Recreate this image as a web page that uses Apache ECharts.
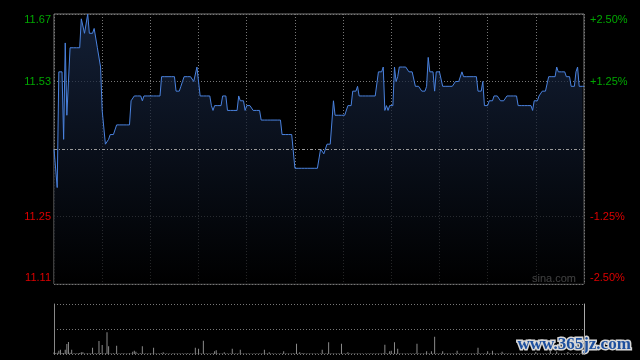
<!DOCTYPE html>
<html>
<head>
<meta charset="utf-8">
<style>
html,body{margin:0;padding:0;background:#000;}
#c{width:640px;height:360px;}
</style>
<script src="https://cdn.jsdelivr.net/npm/echarts@6/dist/echarts.min.js"></script>
</head>
<body>
<div id="c"></div>
<script>
// trading sessions (HK market, one point per minute)
var sessions = [['09:30','12:00'],['13:00','16:00']];
var prevClose = 11.39;
var leftTicks = ['11.11','11.25','11.39','11.53','11.67'];
var rightTicks = ['-2.50%','-1.25%','','+1.25%','+2.50%'];

var prices = [
11.39,11.39,11.31,11.55,11.55,11.55,11.41,11.61,11.46,11.46,
11.60,11.60,11.60,11.60,11.60,11.60,11.60,11.66,11.66,11.63,
11.63,11.67,11.63,11.63,11.63,11.64,11.64,11.60,11.60,11.56,
11.47,11.47,11.40,11.40,11.41,11.42,11.42,11.42,11.42,11.44,
11.44,11.44,11.44,11.44,11.44,11.44,11.44,11.44,11.49,11.49,
11.50,11.50,11.50,11.50,11.50,11.49,11.50,11.50,11.50,11.50,
11.50,11.50,11.50,11.50,11.50,11.50,11.50,11.54,11.54,11.54,
11.54,11.54,11.54,11.54,11.54,11.54,11.51,11.51,11.51,11.52,
11.53,11.54,11.54,11.54,11.54,11.54,11.54,11.53,11.53,11.56,
11.56,11.50,11.50,11.50,11.50,11.50,11.50,11.50,11.48,11.47,
11.48,11.48,11.48,11.48,11.48,11.50,11.50,11.50,11.47,11.47,
11.47,11.47,11.47,11.47,11.47,11.50,11.49,11.49,11.49,11.47,
11.48,11.48,11.48,11.48,11.47,11.47,11.47,11.47,11.47,11.45,
11.45,11.45,11.45,11.45,11.45,11.45,11.45,11.45,11.45,11.45,
11.45,11.45,11.42,11.42,11.42,11.42,11.42,11.42,11.42,11.42,
11.35,11.35,11.35,11.35,11.35,11.35,11.35,11.35,11.35,11.35,
11.35,11.35,11.35,11.35,11.35,11.35,11.39,11.39,11.38,11.38,
11.40,11.40,11.40,11.40,11.49,11.46,11.46,11.46,11.46,11.46,
11.46,11.46,11.46,11.48,11.48,11.48,11.51,11.51,11.51,11.52,
11.50,11.50,11.50,11.50,11.50,11.50,11.50,11.50,11.50,11.50,
11.50,11.50,11.55,11.55,11.55,11.56,11.47,11.48,11.47,11.48,
11.48,11.48,11.56,11.53,11.54,11.56,11.56,11.56,11.56,11.56,
11.56,11.55,11.55,11.55,11.55,11.52,11.52,11.52,11.52,11.51,
11.51,11.51,11.52,11.58,11.55,11.55,11.55,11.51,11.55,11.55,
11.55,11.55,11.52,11.52,11.52,11.52,11.52,11.52,11.52,11.52,
11.53,11.53,11.53,11.53,11.55,11.54,11.54,11.54,11.54,11.54,
11.54,11.54,11.54,11.54,11.51,11.51,11.51,11.53,11.48,11.48,
11.48,11.49,11.49,11.49,11.50,11.50,11.50,11.50,11.49,11.49,
11.49,11.49,11.50,11.50,11.50,11.50,11.50,11.50,11.50,11.48,
11.48,11.48,11.48,11.48,11.48,11.48,11.48,11.48,11.47,11.49,
11.49,11.49,11.50,11.50,11.51,11.51,11.51,11.51,11.54,11.54,
11.54,11.54,11.54,11.56,11.55,11.55,11.55,11.55,11.55,11.54,
11.54,11.54,11.52,11.52,11.52,11.55,11.56,11.52,11.52,11.52,
11.52
];

var volumes = [
15,8,12,33,43,10,9,43,100,120,
12,43,6,8,5,7,9,17,17,6,
5,8,6,7,63,5,8,6,130,9,
90,6,8,217,77,6,5,7,6,83,
5,6,4,7,5,6,4,8,5,23,
33,23,6,5,7,77,5,4,6,5,
7,4,63,5,6,4,5,7,17,5,
4,6,5,3,7,5,4,6,5,4,
6,5,4,7,5,4,6,5,63,4,
53,6,5,133,5,4,6,5,4,7,
27,37,5,4,6,5,17,4,5,6,
4,53,5,4,6,5,43,4,5,6,
4,5,6,3,5,4,6,5,4,5,
6,43,5,4,17,5,6,4,5,3,
5,4,6,27,5,4,6,5,4,7,
6,103,5,17,4,10,5,4,6,5,
4,5,6,4,5,3,6,43,5,4,
6,117,5,4,6,5,4,6,5,103,
5,4,6,17,5,4,6,5,4,6,
5,4,6,3,5,4,6,5,4,5,
6,4,5,6,4,7,93,5,4,27,
33,5,117,6,53,5,4,6,5,4,
6,5,4,6,5,4,103,5,4,6,
5,4,27,5,6,27,4,173,5,4,
6,5,27,4,5,6,4,5,6,4,
5,33,4,6,5,4,6,5,4,6,
5,4,6,5,63,4,5,6,4,5,
27,4,6,33,5,4,6,5,4,23,
5,6,4,5,6,4,5,3,6,5,
4,6,5,4,6,5,4,6,5,4,
20,5,6,4,5,6,4,5,6,40,
5,4,6,25,5,4,6,5,4,6,
20,5,4,6,5,4,6,5,4,6,
8
];

// build minute labels
function toMin(s){var p=s.split(':');return +p[0]*60+ +p[1];}
function fmt(m){var h=Math.floor(m/60),mm=m%60;return (h<10?'0':'')+h+':'+(mm<10?'0':'')+mm;}
var categories = [];
sessions.forEach(function(s,si){
  var a=toMin(s[0]), b=toMin(s[1]);
  for(var m=a;m<=b;m++){
    if(si>0 && m===a) continue; // lunch break merges 12:00/13:00
    categories.push(fmt(m));
  }
});

var GREEN='#00a800', RED='#dd0000';
function tickIndex(v){
  for(var i=0;i<leftTicks.length;i++){ if(Math.abs(+leftTicks[i]-v)<0.005) return i; }
  return -1;
}
function styleName(i){
  var up = i>2;
  var base = up?'g':'r';
  if(i===leftTicks.length-1) return base+'t';
  if(i===0) return base+'b';
  return base;
}
var rich = {
  g:{color:GREEN,fontSize:11,fontFamily:'Liberation Sans'},
  gt:{color:GREEN,fontSize:11,fontFamily:'Liberation Sans',padding:[12,0,0,0]},
  gb:{color:GREEN,fontSize:11,fontFamily:'Liberation Sans',padding:[0,0,12,0]},
  r:{color:RED,fontSize:11,fontFamily:'Liberation Sans'},
  rt:{color:RED,fontSize:11,fontFamily:'Liberation Sans',padding:[12,0,0,0]},
  rb:{color:RED,fontSize:11,fontFamily:'Liberation Sans',padding:[0,0,12,0]}
};

var chart = echarts.init(document.getElementById('c'), null, {renderer:'canvas'});
chart.setOption({
  backgroundColor:'#000',
  animation:false,
  grid:[
    {left:54, top:14, width:530, height:270, show:true, borderColor:'#7a7a7a', borderWidth:1, backgroundColor:'transparent'},
    {left:54, top:304, width:530, height:50, show:false}
  ],
  xAxis:[
    {type:'category', gridIndex:0, data:categories, boundaryGap:false,
     axisLine:{show:false}, axisTick:{show:false}, axisLabel:{show:false},
     splitLine:{show:true, interval:function(i){return i%30===0;}, lineStyle:{color:'#777', type:[1,2], width:1}}},
    {type:'category', gridIndex:1, data:categories, boundaryGap:false,
     axisLine:{show:false}, axisTick:{show:false}, axisLabel:{show:false}, splitLine:{show:false}}
  ],
  yAxis:[
    {type:'value', gridIndex:0, min:11.11, max:11.67, interval:0.14, position:'left',
     axisLine:{show:false}, axisTick:{show:false},
     axisLabel:{margin:3, formatter:function(v){
        var i=tickIndex(v); if(i<0||i===2) return '';
        return '{'+styleName(i)+'|'+leftTicks[i]+'}';
     }, rich:rich},
     splitLine:{show:true, lineStyle:{color:['#777','#777','rgba(0,0,0,0)','#777','#777'], type:[1,2], width:1}}},
    {type:'value', gridIndex:0, min:11.11, max:11.67, interval:0.14, position:'right',
     axisLine:{show:false}, axisTick:{show:false},
     axisLabel:{margin:6, formatter:function(v){
        var i=tickIndex(v); if(i<0||i===2) return '';
        return '{'+styleName(i)+'|'+rightTicks[i]+'}';
     }, rich:rich},
     splitLine:{show:false}},
    {type:'value', gridIndex:1, min:0, max:500, interval:250, position:'left',
     axisLine:{show:true, lineStyle:{color:'#888', width:1}}, axisTick:{show:false}, axisLabel:{show:false},
     splitLine:{show:true, lineStyle:{color:'#777', type:[1,2], width:1}}},
    {type:'value', gridIndex:1, min:0, max:500, interval:250, position:'right',
     axisLine:{show:true, lineStyle:{color:'#aaa', width:1}}, axisTick:{show:false}, axisLabel:{show:false},
     splitLine:{show:false}}
  ],
  series:[
    {type:'line', xAxisIndex:0, yAxisIndex:0, data:prices, symbol:'none', silent:true,
     lineStyle:{color:'#4a82de', width:1},
     areaStyle:{color:new echarts.graphic.LinearGradient(0,0,0,1,[
        {offset:0,color:'#1b2c4c'},{offset:1,color:'#000000'}])},
     markLine:{silent:true, symbol:'none', label:{show:false},
        lineStyle:{color:'#9a9a9a', type:[3,2,1,2], width:1},
        data:[{yAxis:prevClose}]}
    },
    {type:'bar', xAxisIndex:1, yAxisIndex:2, data:volumes, barWidth:1, silent:true,
     itemStyle:{color:'#8a8a8a'}}
  ],
  graphic:[
    {type:'text', left:532, top:273, silent:true,
     style:{text:'sina.com', fill:'#d4d4d4', font:'11px "Liberation Sans"'}},
    {type:'text', left:516, top:335, silent:true,
     style:{text:'www.365jz.com', fill:'#1d4f9e', stroke:'#d8d8d8', lineWidth:3,
            font:'bold 17px "Liberation Serif"'}}
  ]
});
</script>
</body>
</html>
